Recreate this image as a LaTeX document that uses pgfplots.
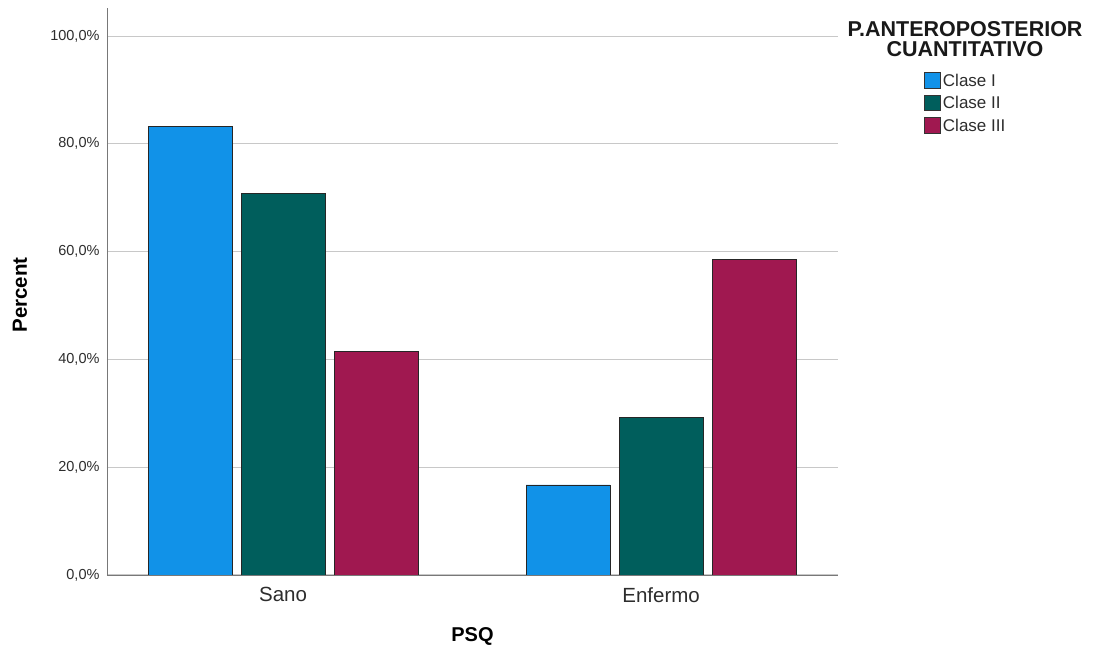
\documentclass[border=0pt]{standalone}
\usepackage{pgfplots}
\pgfplotsset{compat=1.18}
\usepackage{fontspec}
\setmainfont{Liberation Sans}
\definecolor{cI}{RGB}{17,146,232}
\definecolor{cII}{RGB}{0,94,92}
\definecolor{cIII}{RGB}{160,24,80}
\definecolor{gridc}{RGB}{200,200,200}
\definecolor{axc}{RGB}{120,120,120}
\definecolor{txt}{RGB}{45,45,45}
\begin{document}
\begin{tikzpicture}
\useasboundingbox (-107pt,-77pt) rectangle (989pt,575pt);
\begin{axis}[
  scale only axis,
  width=731pt, height=567pt,
  xmin=-0.4656, xmax=1.468,
  ymin=0, ymax=105.2,
  ybar, bar shift=0pt, bar width=0.2222,
  axis x line*=bottom, axis y line*=left,
  axis line style={-, draw=axc, line width=0.9pt},
  major tick length=0pt,
  xtick={0,1}, xticklabels={Sano,Enfermo},
  xticklabel style={font=\fontsize{20.5}{22}\selectfont, text=txt, yshift=-9pt},
  ytick={0,20,40,60,80,100},
  yticklabels={{0,0\%},{20,0\%},{40,0\%},{60,0\%},{80,0\%},{100,0\%}},
  yticklabel style={font=\fontsize{14.5}{16}\selectfont, text=txt, xshift=-4pt},
  ymajorgrids, grid style={draw=gridc, line width=1pt},
  xlabel={PSQ}, ylabel={Percent},
  xlabel style={font=\bfseries\fontsize{20}{22}\selectfont, at={(axis description cs:0.5,-0.109)}, anchor=center},
  ylabel style={font=\bfseries\fontsize{20.5}{22}\selectfont, at={(axis description cs:-0.119,0.494)}, anchor=center},
  legend style={at={(axis description cs:1.1176,0.888)}, anchor=north west, draw=none, fill=none,
    font=\fontsize{17}{19}\selectfont, row sep=4.8pt, inner sep=0pt, cells={anchor=west, text=txt}},
  legend image code/.code={\draw[#1, draw=black!80, line width=0.8pt, bar width=0pt, bar shift=0pt] (0pt,-7.5pt) rectangle (16pt,8pt);},
  every axis plot/.append style={draw=black!85, line width=0.9pt},
]
\addplot[fill=cI] coordinates {(-0.246,83.3) (0.754,16.7)};
\addplot[fill=cII] coordinates {(0,70.7) (1,29.3)};
\addplot[fill=cIII] coordinates {(0.246,41.4) (1.246,58.6)};
\legend{Clase I, Clase II, Clase III}
\end{axis}
\node[font=\bfseries\fontsize{21.5}{20}\selectfont, align=center, text=black!90] at (858pt,536pt) {P.ANTEROPOSTERIOR\\CUANTITATIVO};
\end{tikzpicture}
\end{document}
